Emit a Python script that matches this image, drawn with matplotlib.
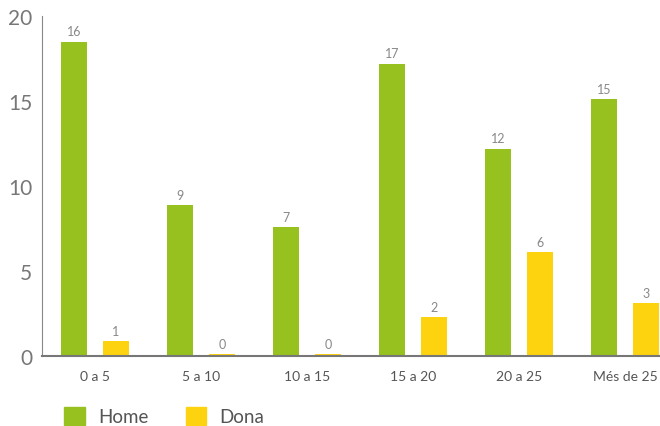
import matplotlib
matplotlib.use('Agg')
import matplotlib.pyplot as plt
from matplotlib.patches import Patch
import numpy as np

categories = ['0 a 5', '5 a 10', '10 a 15', '15 a 20', '20 a 25', 'Més de 25']
# bar heights as drawn in the picture
home_heights = [18.5, 8.9, 7.6, 17.2, 12.2, 15.1]
dona_heights = [0.9, 0.1, 0.1, 2.3, 6.1, 3.1]
# value labels as printed above the bars
home_labels = ['16', '9', '7', '17', '12', '15']
dona_labels = ['1', '0', '0', '2', '6', '3']

green = '#96c11f'
yellow = '#fdd20f'

plt.rcParams['font.family'] = ['Lato', 'DejaVu Sans']

fig = plt.figure(figsize=(6.6, 4.27), dpi=100)
ax = fig.add_axes([42/660, 70/427, 636/660, 340/427])

x = np.arange(len(categories))
w = 0.245
off = 0.198
b1 = ax.bar(x - off, home_heights, w, color=green)
b2 = ax.bar(x + off, dona_heights, w, color=yellow)

for bars, labs in ((b1, home_labels), (b2, dona_labels)):
    for b, t in zip(bars, labs):
        ax.annotate(t, (b.get_x() + b.get_width()/2, b.get_height()),
                    xytext=(0, 3), textcoords='offset points',
                    ha='center', va='bottom', fontsize=9, color='#888888')

ax.set_xlim(-0.5, 5.5)
ax.set_ylim(0, 20)
ax.set_yticks([0, 5, 10, 15, 20])
ax.set_xticks(x)
ax.set_xticklabels(categories, fontsize=10, color='#555555')
for lab in ax.get_yticklabels():
    lab.set_fontsize(15)
    lab.set_color('#777777')
ax.tick_params(axis='y', length=0, pad=7)
ax.tick_params(axis='x', length=0, pad=10)
for s in ('top', 'right'):
    ax.spines[s].set_visible(False)
ax.spines['left'].set_color('#888888')
ax.spines['bottom'].set_color('#777777')
ax.spines['bottom'].set_linewidth(1.5)

handles = [Patch(color=green), Patch(color=yellow)]
fig.legend(handles, ['Home', 'Dona'], loc='upper left',
           bbox_to_anchor=(64/660, 1 - 408/427), ncol=2, frameon=False,
           fontsize=13.5, labelcolor='#555555', handlelength=1.1,
           handleheight=1.1, columnspacing=2.0, handletextpad=0.7,
           borderpad=0, borderaxespad=0)

fig.savefig('out.png', dpi=100)
